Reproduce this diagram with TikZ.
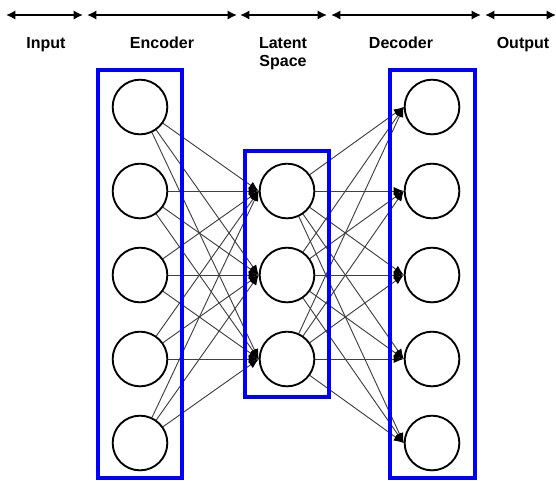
\documentclass[tikz,border=0pt]{standalone}
\usepackage{fontspec}
\setmainfont{Liberation Sans}
\usetikzlibrary{arrows.meta}
\begin{document}
\begin{tikzpicture}[x=0.75pt,y=-0.75pt,
  neuron/.style={circle,draw=black,line width=1.4pt,fill=white,minimum size=41pt,inner sep=0pt},
  layerbox/.style={draw={rgb,255:red,0;green,0;blue,255},line width=2.7pt},
  link/.style={draw=black!75,line width=0.7pt,-{Latex[length=7.5pt,width=6pt,fill=black,color=black]}},
  span/.style={line width=2pt,{Latex[length=7pt,width=7pt]}-{Latex[length=7pt,width=7pt]}},
  lbl/.style={font=\fontsize{12}{13.5}\selectfont\bfseries,inner sep=0pt,anchor=base}]
\useasboundingbox (0,0) rectangle (556,480);
% top span arrows
\coordinate (s0) at (6,15);   \coordinate (s1) at (83,15);
\coordinate (s2) at (87,15);  \coordinate (s3) at (237,15);
\coordinate (s4) at (240,15); \coordinate (s5) at (327,15);
\coordinate (s6) at (331,15); \coordinate (s7) at (481,15);
\coordinate (s8) at (485,15); \coordinate (s9) at (556,15);
\draw[span] (s0) -- (s1);
\draw[span] (s2) -- (s3);
\draw[span] (s4) -- (s5);
\draw[span] (s6) -- (s7);
\draw[span] (s8) -- (s9);
% labels
\node[lbl] (tin) at (46,48) {Input};
\node[lbl] (tenc) at (162,48) {Encoder};
\node[lbl] (tlat1) at (283,48) {Latent};
\node[lbl] (tlat2) at (283,66) {Space};
\node[lbl] (tdec) at (401,48) {Decoder};
\node[lbl] (tout) at (523,48) {Output};
% neurons
\foreach \i/\y in {1/107,2/191,3/275,4/359,5/443}{
  \node[neuron] (e\i) at (140,\y) {};
  \node[neuron] (d\i) at (432,\y) {};
}
\foreach \i/\y in {1/191,2/275,3/359}{
  \node[neuron] (l\i) at (287,\y) {};
}
% connectors
\foreach \i in {1,...,5}{
  \foreach \j in {1,2,3}{
    \draw[link] (e\i) -- (l\j.west);
    \draw[link] (l\j) -- (d\i.west);
  }
}
% layer boxes
\draw[layerbox] (98,70) rectangle (182,478);
\draw[layerbox] (245,151) rectangle (329,397);
\draw[layerbox] (390,70) rectangle (475,478);
\end{tikzpicture}
\end{document}
